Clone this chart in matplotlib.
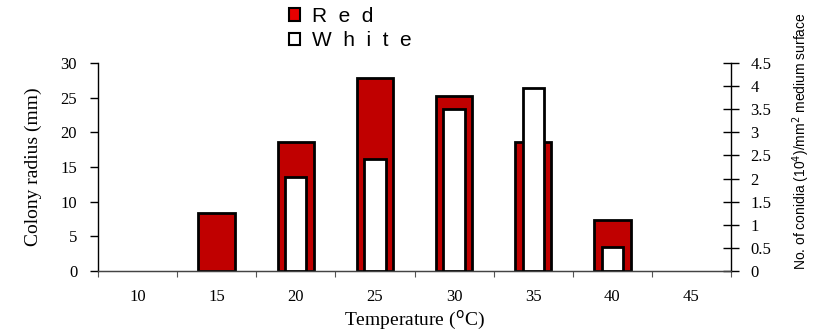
import matplotlib
matplotlib.use("Agg")
import matplotlib.pyplot as plt
from matplotlib.patches import Patch
import numpy as np

# ---- data ----
temperatures = [10, 15, 20, 25, 30, 35, 40, 45]
red_radius = [0, 8.4, 18.6, 27.9, 25.2, 18.6, 7.3, 0]          # Colony radius (mm), left axis
white_conidia = [0, 0, 2.03, 2.42, 3.5, 3.96, 0.52, 0]          # No. of conidia, right axis
left_ticks = [0, 5, 10, 15, 20, 25, 30]
right_ticks = [0, 0.5, 1, 1.5, 2, 2.5, 3, 3.5, 4, 4.5]
right_tick_labels = ["0", "0.5", "1", "1.5", "2", "2.5", "3", "3.5", "4", "4.5"]

RED = "#c00000"
serif = ["Liberation Serif", "DejaVu Serif"]
sans = ["Liberation Sans", "DejaVu Sans"]

fig = plt.figure(figsize=(8.27, 3.34), dpi=100)
ax = fig.add_axes([98 / 827, 1 - 271 / 334, (731 - 98) / 827, (271 - 63) / 334])
ax2 = ax.twinx()

x = np.arange(len(temperatures))
r_idx = [i for i, v in enumerate(red_radius) if v > 0]
w_idx = [i for i, v in enumerate(white_conidia) if v > 0]
ax.bar([x[i] for i in r_idx], [red_radius[i] for i in r_idx], width=0.46,
       color=RED, edgecolor="black", linewidth=2.0, zorder=2)
ax2.bar([x[i] for i in w_idx], [white_conidia[i] for i in w_idx], width=0.27,
        color="white", edgecolor="black", linewidth=2.0, zorder=3)

ax.set_xlim(-0.5, len(temperatures) - 0.5)
ax.set_ylim(0, 30)
ax2.set_ylim(0, 4.5)

# x axis: labels at centers, small ticks at category boundaries
ax.set_xticks(x)
ax.set_xticklabels([str(t) for t in temperatures], fontfamily=serif, fontsize=12)
ax.tick_params(axis="x", which="major", length=0, pad=13)
ax.set_xticks(np.arange(-0.5, len(temperatures), 1.0), minor=True)
ax.tick_params(axis="x", which="minor", length=4, width=0.8, direction="out", color="#555555")

ax.set_yticks(left_ticks)
ax.set_yticklabels([str(v) for v in left_ticks], fontfamily=serif, fontsize=12)
ax.tick_params(axis="y", length=6, width=1, direction="out", pad=9)

ax2.set_yticks(right_ticks)
ax2.set_yticklabels(right_tick_labels, fontfamily=serif, fontsize=12)
ax2.tick_params(axis="y", length=12, width=1, direction="inout", pad=8)

for a in (ax, ax2):
    a.spines["top"].set_visible(False)
    a.spines["left"].set_linewidth(1)
    a.spines["right"].set_linewidth(1)
    a.spines["bottom"].set_linewidth(0.9)
    a.spines["bottom"].set_color("#444444")
ax2.spines["left"].set_visible(False)
ax.spines["right"].set_visible(False)

ax.set_xlabel("Temperature ($^{\\mathrm{o}}$C)", fontfamily=serif, fontsize=14, labelpad=3)
ax.set_ylabel("Colony radius (mm)", fontfamily=serif, fontsize=14)
ax.yaxis.set_label_coords(-0.088, 0.5)
ax2.set_ylabel("No. of conidia (10$^4$)/mm$^2$ medium surface", fontfamily=sans, fontsize=10)
ax2.yaxis.set_label_coords(1.094, 0.625)

handles = [Patch(facecolor="#e80000", edgecolor="black", linewidth=1.5),
           Patch(facecolor="white", edgecolor="black", linewidth=1.5)]
fig.legend(handles, ["R  e  d", "W  h  i  t  e"], loc="upper left",
           bbox_to_anchor=(270 / 827, 1.035), frameon=False,
           handlelength=0.55, handleheight=0.55, handletextpad=0.55,
           labelspacing=0.25, prop={"family": sans, "size": 15})

fig.savefig("out.png", dpi=100)
